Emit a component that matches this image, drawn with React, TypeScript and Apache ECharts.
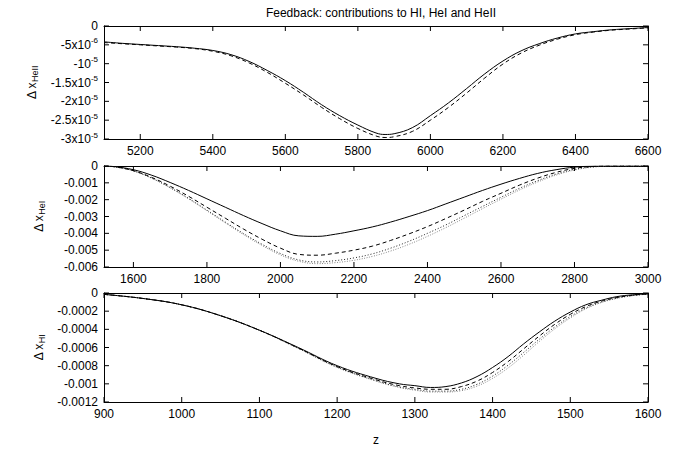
import React, { useEffect, useRef } from "react";
import * as echarts from "echarts";

// ---- HeII panel (values in units of 1e-6) ----
const heIIZ = [5100, 5150, 5200, 5250, 5300, 5350, 5400, 5450, 5500, 5550, 5600, 5650, 5700, 5750, 5800, 5850, 5875, 5900, 5950, 6000, 6050, 6100, 6150, 6200, 6250, 6300, 6350, 6400, 6450, 6500, 6550, 6600];
const heIISolid = [-4.2, -4.6, -4.9, -5.2, -5.5, -5.9, -6.5, -7.6, -9.4, -11.8, -14.5, -17.6, -20.9, -23.8, -26.3, -28.4, -28.8, -28.6, -27.0, -23.8, -20.4, -16.6, -12.7, -9.3, -6.6, -4.7, -3.2, -2.1, -1.5, -1.0, -0.7, -0.4];
const heIIDashed = [-4.4, -4.7, -5.0, -5.3, -5.6, -6.0, -6.7, -7.9, -9.8, -12.3, -15.2, -18.3, -21.6, -24.6, -27.2, -29.2, -29.6, -29.4, -28.0, -25.0, -21.6, -17.8, -13.8, -10.1, -7.2, -5.1, -3.5, -2.3, -1.6, -1.1, -0.8, -0.5];
const heIIScale = 1e-6;
const heIITicks = [0, -5e-6, -10e-6, -15e-6, -20e-6, -25e-6, -30e-6];
const heIITickLabels = ["0", "-5x10{sup|-6}", "-10{sup|-5}", "-1.5x10{sup|-5}", "-2x10{sup|-5}", "-2.5x10{sup|-5}", "-3x10{sup|-5}"];
const heIIXTicks = [5200, 5400, 5600, 5800, 6000, 6200, 6400, 6600];

// ---- HeI panel (values in units of 1e-3) ----
const heIZ = [1520, 1550, 1600, 1650, 1700, 1750, 1800, 1850, 1900, 1950, 2000, 2050, 2100, 2150, 2200, 2250, 2300, 2350, 2400, 2450, 2500, 2550, 2600, 2650, 2700, 2750, 2800, 2850, 2900, 3000];
const heISolid = [0, -0.04, -0.22, -0.55, -0.98, -1.45, -1.95, -2.45, -2.95, -3.42, -3.85, -4.15, -4.18, -4.05, -3.85, -3.62, -3.33, -3.0, -2.65, -2.25, -1.85, -1.45, -1.08, -0.74, -0.44, -0.22, -0.07, -0.01, 0, 0];
const heIDashed = [0, -0.05, -0.28, -0.68, -1.2, -1.8, -2.45, -3.1, -3.75, -4.35, -4.88, -5.25, -5.3, -5.18, -5.0, -4.76, -4.42, -4.03, -3.6, -3.12, -2.62, -2.1, -1.62, -1.14, -0.72, -0.38, -0.14, -0.03, 0, 0];
const heIDotted = [0, -0.05, -0.29, -0.72, -1.28, -1.92, -2.62, -3.33, -4.02, -4.65, -5.2, -5.58, -5.7, -5.62, -5.46, -5.22, -4.88, -4.47, -4.0, -3.5, -2.95, -2.4, -1.86, -1.33, -0.87, -0.48, -0.2, -0.05, -0.01, 0];
const heIDotted2 = [0, -0.05, -0.29, -0.73, -1.3, -1.95, -2.66, -3.38, -4.08, -4.72, -5.28, -5.66, -5.8, -5.74, -5.6, -5.37, -5.05, -4.65, -4.18, -3.66, -3.1, -2.53, -1.97, -1.43, -0.95, -0.54, -0.24, -0.07, -0.01, 0];
const heIScale = 1e-3;
const heITicks = [0, -0.001, -0.002, -0.003, -0.004, -0.005, -0.006];
const heITickLabels = ["0", "-0.001", "-0.002", "-0.003", "-0.004", "-0.005", "-0.006"];
const heIXTicks = [1600, 1800, 2000, 2200, 2400, 2600, 2800, 3000];

// ---- HI panel (values in units of 1e-4) ----
const hIZ = [900, 950, 1000, 1050, 1100, 1150, 1200, 1250, 1280, 1300, 1320, 1340, 1360, 1380, 1400, 1420, 1440, 1460, 1480, 1500, 1520, 1540, 1560, 1580, 1600];
const hISolid = [-0.15, -0.6, -1.3, -2.5, -4.1, -6.0, -8.0, -9.4, -10.0, -10.2, -10.4, -10.3, -9.9, -9.2, -8.2, -7.0, -5.6, -4.3, -3.1, -2.1, -1.3, -0.8, -0.4, -0.2, -0.1];
const hIDashed = [-0.15, -0.6, -1.3, -2.5, -4.1, -6.05, -8.1, -9.55, -10.2, -10.45, -10.6, -10.6, -10.3, -9.7, -8.75, -7.55, -6.15, -4.75, -3.45, -2.35, -1.5, -0.9, -0.5, -0.25, -0.1];
const hIDotted = [-0.15, -0.6, -1.3, -2.5, -4.1, -6.1, -8.15, -9.65, -10.35, -10.6, -10.8, -10.8, -10.6, -10.05, -9.15, -7.95, -6.55, -5.1, -3.75, -2.6, -1.65, -1.0, -0.55, -0.28, -0.12];
const hIDotted2 = [-0.15, -0.6, -1.3, -2.5, -4.1, -6.1, -8.2, -9.7, -10.4, -10.7, -10.9, -10.9, -10.75, -10.25, -9.4, -8.25, -6.85, -5.35, -3.95, -2.75, -1.75, -1.05, -0.6, -0.3, -0.12];
const hIScale = 1e-4;
const hITicks = [0, -0.0002, -0.0004, -0.0006, -0.0008, -0.001, -0.0012];
const hITickLabels = ["0", "-0.0002", "-0.0004", "-0.0006", "-0.0008", "-0.001", "-0.0012"];
const hIXTicks = [900, 1000, 1100, 1200, 1300, 1400, 1500, 1600];

const FONT = "Liberation Sans";
const TICK_LEN = 5;

const lineStyles = [
  { color: "#000", width: 1, type: "solid" },
  { color: "#000", width: 1, type: [4, 3] },
  { color: "#222", width: 1, type: [1, 2] },
  { color: "#888", width: 1, type: [1, 1.5] },
];

function pairs(xs: number[], ys: number[], scale: number) {
  return xs.map((x, i) => [x, ys[i] * scale]);
}

function labelFor(ticks: number[], labels: string[]) {
  return (v: number) => {
    let best = 0;
    for (let i = 1; i < ticks.length; i++) {
      if (Math.abs(ticks[i] - v) < Math.abs(ticks[best] - v)) best = i;
    }
    return labels[best];
  };
}

// Inward tick marks on all four sides of a frame, positioned through the panel's own axes.
function frameTicks(xmin: number, xmax: number, ymin: number, xt: number[], yt: number[]) {
  const items: any[] = [];
  const half = TICK_LEN / 2;
  xt.forEach((x) => {
    items.push({ value: [x, ymin], symbolSize: [1, TICK_LEN], symbolOffset: [0, -half] });
    items.push({ value: [x, 0], symbolSize: [1, TICK_LEN], symbolOffset: [0, half] });
  });
  yt.forEach((y) => {
    items.push({ value: [xmin, y], symbolSize: [TICK_LEN, 1], symbolOffset: [half, 0] });
    items.push({ value: [xmax, y], symbolSize: [TICK_LEN, 1], symbolOffset: [-half, 0] });
  });
  return items;
}

export default function App() {
  const ref = useRef<HTMLDivElement>(null);

  useEffect(() => {
    if (!ref.current) return;
    const chart = echarts.init(ref.current, null, { renderer: "svg" });

    const grids = [
      { left: 104, right: 35, top: 26, height: 113 },
      { left: 104, right: 35, top: 166, height: 101 },
      { left: 104, right: 35, top: 293, height: 109 },
    ];

    const panels = [
      { xmin: 5100, xmax: 6600, xt: heIIXTicks, ymin: -3e-5, yt: heIITicks, yl: heIITickLabels, name: "Δ x{sub|HeII}" },
      { xmin: 1520, xmax: 3000, xt: heIXTicks, ymin: -0.006, yt: heITicks, yl: heITickLabels, name: "Δ x{sub|HeI}" },
      { xmin: 900, xmax: 1600, xt: hIXTicks, ymin: -0.0012, yt: hITicks, yl: hITickLabels, name: "Δ x{sub|HI}" },
    ];

    const frameLine = { show: true, onZero: false, lineStyle: { color: "#000", width: 1 } };
    const xAxis: any[] = [];
    const yAxis: any[] = [];
    panels.forEach((p, i) => {
      // bottom axis with labels
      xAxis.push({
        type: "value", gridIndex: i, position: "bottom", min: p.xmin, max: p.xmax,
        axisLine: frameLine, splitLine: { show: false }, axisTick: { show: false },
        axisLabel: {
          customValues: p.xt, color: "#000", fontFamily: FONT, fontSize: 12, margin: 6,
          formatter: (v: number) => String(Math.round(v)),
        },
        name: i === 2 ? "z" : "", nameLocation: "middle", nameGap: 32,
        nameTextStyle: { color: "#000", fontFamily: FONT, fontSize: 12 },
      });
      // top edge of the frame
      xAxis.push({
        type: "value", gridIndex: i, position: "top", min: p.xmin, max: p.xmax,
        axisLine: frameLine, splitLine: { show: false }, axisTick: { show: false },
        axisLabel: { show: false },
      });
      yAxis.push({
        type: "value", gridIndex: i, position: "left", min: p.ymin, max: 0,
        axisLine: frameLine, splitLine: { show: false }, axisTick: { show: false },
        axisLabel: {
          customValues: p.yt, color: "#000", fontFamily: FONT, fontSize: 12, margin: 6,
          formatter: labelFor(p.yt, p.yl),
          rich: { sup: { fontSize: 8, fontFamily: FONT, color: "#000", padding: [0, 0, 8, 0] } },
        },
        name: p.name, nameLocation: "middle", nameRotate: 90, nameGap: 58,
        nameTextStyle: {
          color: "#000", fontFamily: FONT, fontSize: 12,
          rich: { sub: { fontSize: 9, fontFamily: FONT, color: "#000", padding: [6, 0, 0, 0] } },
        },
      });
      // right edge of the frame
      yAxis.push({
        type: "value", gridIndex: i, position: "right", min: p.ymin, max: 0,
        axisLine: frameLine, splitLine: { show: false }, axisTick: { show: false },
        axisLabel: { show: false },
      });
    });

    const seriesSets = [
      { x: heIIZ, ys: [heIISolid, heIIDashed], s: heIIScale },
      { x: heIZ, ys: [heISolid, heIDashed, heIDotted, heIDotted2], s: heIScale },
      { x: hIZ, ys: [hISolid, hIDashed, hIDotted, hIDotted2], s: hIScale },
    ];
    const series: any[] = [];
    seriesSets.forEach((set, i) => {
      set.ys.forEach((ys, k) => {
        series.push({
          type: "line", xAxisIndex: 2 * i, yAxisIndex: 2 * i,
          data: pairs(set.x, ys, set.s), showSymbol: false, smooth: 0.4,
          lineStyle: lineStyles[k], z: 10 - k,
        });
      });
      const p = panels[i];
      series.push({
        type: "scatter", xAxisIndex: 2 * i, yAxisIndex: 2 * i,
        data: frameTicks(p.xmin, p.xmax, p.ymin, p.xt, p.yt),
        symbol: "rect", clip: false, silent: true, z: 20,
        itemStyle: { color: "#000", opacity: 1 },
        emphasis: { disabled: true },
      });
    });

    chart.setOption({
      animation: false,
      backgroundColor: "#fff",
      title: {
        text: "Feedback: contributions to HI, HeI and HeII",
        left: 376, top: 2, textAlign: "center",
        textStyle: { color: "#000", fontFamily: FONT, fontSize: 12, fontWeight: "normal" },
      },
      grid: grids,
      xAxis,
      yAxis,
      series,
    });

    return () => chart.dispose();
  }, []);

  return <div ref={ref} style={{ width: 683, height: 450, position: "absolute", left: 0, top: 0 }} />;
}
